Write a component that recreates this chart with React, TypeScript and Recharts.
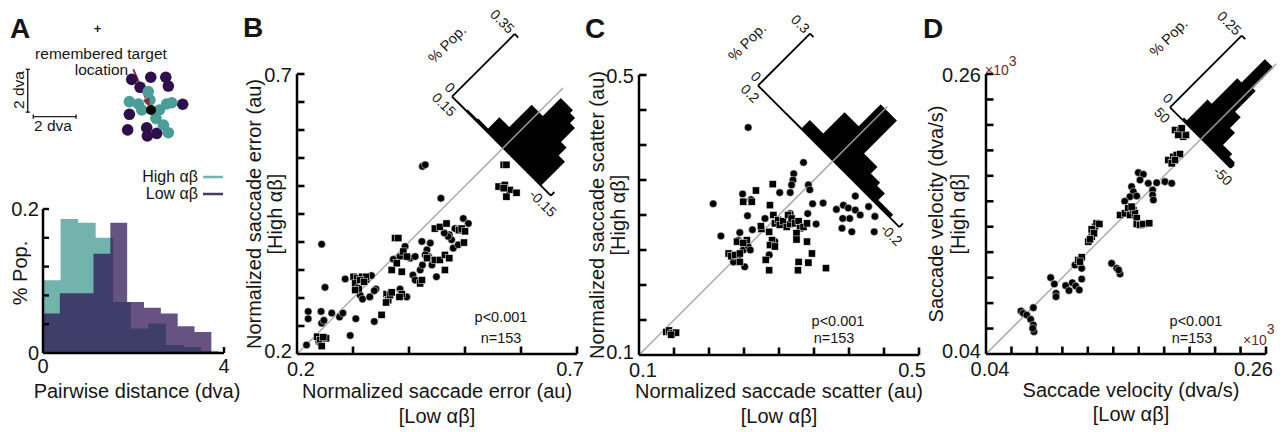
import React from "react";
import {
  Area,
  ComposedChart,
  ReferenceLine,
  Scatter,
  ScatterChart,
  XAxis,
  YAxis,
} from "recharts";

const FONT = '"Liberation Sans", Arial, Helvetica, sans-serif';
const INK = "#151515";
const TEAL = "#72b3ae";
const TEAL_DOT = "#4b9d98";
const PURPLE = "#2b1150";
const PURPLE_DOT = "#2d0f4b";

// ---- panel A, example endpoints (dva, relative to the target)
const lowAlphaEnds: [number, number][] = [
  [-0.9, 1.43], [-0.51, 1.06], [-0.01, 1.53], [0.69, 1.53], [0.81, 1.12],
  [-1.01, -0.2], [1.48, 0.27], [-1.09, -0.93], [-0.2, -0.83], [-0.17, -1.21],
  [0.27, -1.09],
];
const highAlphaEnds: [number, number][] = [
  [-1.01, 0.39], [-0.59, 0.28], [-0.13, 0.86], [-0.05, 0.47], [0.73, 0.28],
  [0.97, 0.34], [0.39, 0], [0.23, -0.39], [0.58, -0.7], [0.81, -1.06],
  [-0.43, 0],
];
const targetPos: [number, number][] = [[0, 0]];
const arrowFrom = { x: -0.83, y: 1.9 };
const arrowTo = { x: -0.05, y: 0.13 };
const schemX = [-7.056, 4.159];
const schemY = [-2.336, 5.14];

// ---- panel A histogram
const pairEdgesHigh = [0, 0.388, 0.776, 1.164, 1.552, 1.94, 2.328, 2.716, 3.104, 3.492, 3.88];
const pairPopHigh = [0.101, 0.186, 0.181, 0.16, 0.071, 0.034, 0.041, 0.011, 0.008, 0.003];
const pairEdgesLow = [0, 0.372, 0.744, 1.116, 1.488, 1.86, 2.232, 2.604, 2.976, 3.348, 3.72];
const pairPopLow = [0.055, 0.083, 0.083, 0.138, 0.181, 0.071, 0.063, 0.055, 0.037, 0.029];
const pairTicksY = [0, 0.04, 0.08, 0.12, 0.16, 0.2];
const pairTicksX = [0, 4];

// ---- panel B, saccade error
const errCircles: [number, number][] = [
  [0.217, 0.216], [0.22, 0.263], [0.22, 0.276], [0.243, 0.276], [0.244, 0.255],
  [0.262, 0.273], [0.276, 0.266], [0.282, 0.273], [0.305, 0.263], [0.295, 0.233],
  [0.338, 0.258], [0.25, 0.319], [0.244, 0.396], [0.248, 0.26], [0.239, 0.222],
  [0.286, 0.334], [0.333, 0.34], [0.313, 0.305], [0.317, 0.298], [0.33, 0.302],
  [0.341, 0.316], [0.338, 0.313], [0.324, 0.332], [0.384, 0.316], [0.396, 0.302],
  [0.372, 0.369], [0.393, 0.392], [0.384, 0.374], [0.402, 0.371], [0.411, 0.374],
  [0.407, 0.341], [0.411, 0.332], [0.42, 0.35], [0.424, 0.359], [0.423, 0.401],
  [0.432, 0.386], [0.438, 0.398], [0.435, 0.374], [0.441, 0.359], [0.449, 0.338],
  [0.472, 0.413], [0.479, 0.389], [0.476, 0.404], [0.47, 0.41], [0.482, 0.424],
  [0.497, 0.442], [0.506, 0.433], [0.488, 0.395], [0.463, 0.416], [0.429, 0.377],
  [0.424, 0.535], [0.429, 0.538], [0.457, 0.478],
];
const errSquares: [number, number][] = [
  [0.351, 0.27], [0.236, 0.231], [0.241, 0.225], [0.244, 0.214], [0.252, 0.228],
  [0.247, 0.23], [0.301, 0.338], [0.307, 0.335], [0.316, 0.338], [0.323, 0.338],
  [0.304, 0.326], [0.31, 0.317], [0.304, 0.314], [0.313, 0.332], [0.32, 0.329],
  [0.36, 0.307], [0.363, 0.296], [0.366, 0.305], [0.359, 0.292], [0.369, 0.31],
  [0.387, 0.307], [0.383, 0.302], [0.375, 0.407], [0.381, 0.407], [0.369, 0.35],
  [0.378, 0.362], [0.387, 0.347], [0.39, 0.383], [0.396, 0.374], [0.42, 0.326],
  [0.423, 0.332], [0.432, 0.371], [0.446, 0.368], [0.455, 0.368], [0.464, 0.35],
  [0.464, 0.377], [0.472, 0.371], [0.446, 0.424], [0.455, 0.427], [0.467, 0.433],
  [0.489, 0.421], [0.494, 0.424], [0.5, 0.419], [0.498, 0.399], [0.569, 0.538],
  [0.574, 0.538], [0.56, 0.499], [0.571, 0.502], [0.58, 0.493], [0.574, 0.481],
  [0.592, 0.488], [0.569, 0.496],
];
const errTicksX = [0.2, 0.3, 0.4, 0.5, 0.6, 0.7];
const errTicksY = [0.2, 0.25, 0.3, 0.35, 0.4, 0.45, 0.5, 0.55, 0.6, 0.65, 0.7];
const errDiffEdges = [0.137, 0.107, 0.077, 0.047, 0.017, -0.017, -0.054, -0.069, -0.084, -0.101, -0.12];
const errDiffPop = [0.004, 0.008, 0.012, 0.075, 0.2, 0.3, 0.284, 0.256, 0.178, 0.134];

// ---- panel C, saccade scatter
const scatCircles: [number, number][] = [
  [0.256, 0.425], [0.335, 0.375], [0.321, 0.359], [0.32, 0.35], [0.318, 0.343],
  [0.342, 0.343], [0.344, 0.336], [0.301, 0.332], [0.316, 0.332], [0.248, 0.33],
  [0.409, 0.327], [0.26, 0.322], [0.206, 0.316], [0.217, 0.27], [0.244, 0.275],
  [0.24, 0.236], [0.242, 0.241], [0.249, 0.25], [0.242, 0.264], [0.251, 0.226],
  [0.256, 0.255], [0.259, 0.25], [0.235, 0.233], [0.255, 0.299], [0.262, 0.279],
  [0.28, 0.295], [0.294, 0.262], [0.286, 0.243], [0.316, 0.302], [0.341, 0.302],
  [0.353, 0.287], [0.363, 0.317], [0.348, 0.316], [0.382, 0.308], [0.392, 0.314],
  [0.399, 0.31], [0.409, 0.307], [0.416, 0.3], [0.428, 0.312], [0.437, 0.298],
  [0.401, 0.295], [0.391, 0.295], [0.404, 0.276], [0.39, 0.281], [0.436, 0.276],
];
const scatSquares: [number, number][] = [
  [0.267, 0.335], [0.291, 0.344], [0.139, 0.133], [0.143, 0.135], [0.148, 0.131],
  [0.153, 0.132], [0.146, 0.129], [0.228, 0.245], [0.232, 0.241], [0.237, 0.243],
  [0.244, 0.245], [0.24, 0.262], [0.254, 0.264], [0.249, 0.26], [0.244, 0.233],
  [0.249, 0.319], [0.261, 0.319], [0.275, 0.28], [0.274, 0.284], [0.286, 0.276],
  [0.287, 0.314], [0.29, 0.264], [0.287, 0.257], [0.294, 0.255], [0.281, 0.236],
  [0.286, 0.221], [0.292, 0.3], [0.294, 0.288], [0.299, 0.293], [0.301, 0.286],
  [0.306, 0.291], [0.311, 0.283], [0.316, 0.287], [0.313, 0.3], [0.318, 0.295],
  [0.323, 0.288], [0.328, 0.291], [0.33, 0.281], [0.335, 0.283], [0.34, 0.288],
  [0.325, 0.274], [0.325, 0.265], [0.34, 0.262], [0.347, 0.245], [0.328, 0.233],
  [0.342, 0.232], [0.327, 0.221], [0.367, 0.224],
];
const scatTicks = [0.1, 0.15, 0.2, 0.25, 0.3, 0.35, 0.4, 0.45, 0.5];
const scatDiffEdges = [0.12, 0.078, 0.04, 0.0, -0.046, -0.084, -0.11, -0.132, -0.174];
const scatDiffPop = [0.004, 0.05, 0.173, 0.3, 0.11, 0.072, 0.055, 0.017];

// ---- panel D, saccade velocity (x10^3)
const veloCircles: [number, number][] = [
  [0.0675, 0.0738], [0.0693, 0.072], [0.072, 0.0706], [0.0772, 0.0764], [0.0751, 0.0672],
  [0.0772, 0.0628], [0.0777, 0.0575], [0.0767, 0.0602], [0.0908, 0.1], [0.0937, 0.095],
  [0.095, 0.0877], [0.095, 0.085], [0.1026, 0.0937], [0.1052, 0.0898], [0.1078, 0.096],
  [0.1105, 0.0934], [0.1133, 0.0903], [0.1152, 0.0989], [0.1099, 0.1099], [0.1152, 0.1073],
  [0.1387, 0.1112], [0.1427, 0.1073], [0.1453, 0.1029], [0.1442, 0.106], [0.1597, 0.1825],
  [0.1636, 0.1812], [0.1675, 0.1741], [0.1741, 0.1746], [0.1806, 0.1754], [0.1859, 0.1741],
  [0.161, 0.1767], [0.1709, 0.1689], [0.1709, 0.1649], [0.1544, 0.1715], [0.1558, 0.1675],
  [0.1531, 0.1636], [0.1584, 0.1641], [0.1715, 0.161], [0.149, 0.16],
];
const veloSquares: [number, number][] = [
  [0.1125, 0.1139], [0.1152, 0.116], [0.1139, 0.1126], [0.1204, 0.1283], [0.123, 0.1322],
  [0.1238, 0.1361], [0.1256, 0.14], [0.1269, 0.1427], [0.1291, 0.1421], [0.123, 0.1379],
  [0.1249, 0.1348], [0.1217, 0.1301], [0.1453, 0.1492], [0.1492, 0.1505], [0.1518, 0.1545],
  [0.1531, 0.1492], [0.1558, 0.1531], [0.1571, 0.1505], [0.1584, 0.1466], [0.1584, 0.1421],
  [0.161, 0.1414], [0.1636, 0.1421], [0.1683, 0.1427], [0.1544, 0.1558], [0.1885, 0.216],
  [0.1924, 0.2147], [0.195, 0.2108], [0.1911, 0.2121], [0.1971, 0.2121], [0.1937, 0.2173],
  [0.1833, 0.1924], [0.1872, 0.195], [0.1898, 0.1964], [0.1924, 0.1971], [0.1859, 0.1898],
  [0.1885, 0.1924],
];
const veloTicks = [0.04, 0.06, 0.08, 0.1, 0.12, 0.14, 0.16, 0.18, 0.2, 0.22, 0.24, 0.26];
const veloDiffEdges = [30.2, 25.5, 18.5, 11.5, -2.5, -7.2, -16.5, -24.7, -39.9, -49.2];
const veloDiffPop = [0.007, 0.079, 0.168, 0.25, 0.178, 0.106, 0.069, 0.027, 0.017];

const toXY = (pts: [number, number][]) => pts.map(([x, y]) => ({ x, y }));

function binValue(edges: number[], vals: number[], x: number) {
  for (let i = 0; i < vals.length; i++) {
    if (x >= edges[i] && x < edges[i + 1]) return vals[i];
  }
  return 0;
}

type TickLabel = { text: string; anchor?: "start" | "middle" | "end"; dx?: number; dy?: number } | null;

// inward tick mark + outside label, drawn by the axis itself
function axisTick(
  side: "left" | "bottom",
  o: { len: number; sw: number; fs: number; gap: number; label: (v: number, i: number) => TickLabel; skip?: (v: number, i: number) => boolean }
) {
  return (p: any) => {
    const { x, y } = p;
    const v = p.payload.value;
    const lab = o.label(v, p.index);
    const mark = !(o.skip && o.skip(v, p.index));
    const left = side === "left";
    return (
      <g>
        {mark &&
          (left ? (
            <line x1={x} y1={y} x2={x + o.len} y2={y} stroke="#000" strokeWidth={o.sw} />
          ) : (
            <line x1={x} y1={y} x2={x} y2={y - o.len} stroke="#000" strokeWidth={o.sw} />
          ))}
        {lab && (
          <text
            x={(left ? x - o.gap : x) + (lab.dx || 0)}
            y={(left ? y : y + o.gap) + (lab.dy || 0)}
            dy={left ? "0.35em" : 0}
            textAnchor={lab.anchor || (left ? "end" : "middle")}
            fontSize={o.fs}
            fontFamily={FONT}
            fill={INK}
          >
            {lab.text}
          </text>
        )}
      </g>
    );
  };
}

// the axis box must be at least 1px to render; margins are trimmed by that pixel
const axisStyle = (sw: number) => ({
  axisLine: { stroke: "#000", strokeWidth: sw },
  tickLine: false,
  tickSize: 0,
  tickMargin: 0,
  interval: 0 as const,
  allowDataOverflow: true,
});

const dotShape = (r: number, fill: string, stroke = "none", sw = 0) => (p: any) =>
  <circle cx={p.cx} cy={p.cy} r={r} fill={fill} stroke={stroke} strokeWidth={sw} />;

const squareShape = (s: number) => (p: any) =>
  <rect x={p.cx - s / 2} y={p.cy - s / 2} width={s} height={s} fill="#000" stroke="#fff" strokeWidth={0.5} />;

function arrowHead(p: any) {
  const a = Math.atan2(-(arrowTo.y - arrowFrom.y), arrowTo.x - arrowFrom.x);
  const c = Math.cos(a), s = Math.sin(a);
  const bx = p.cx - 9 * c, by = p.cy - 9 * s;
  const pts = `${p.cx},${p.cy} ${bx - 3.5 * s},${by + 3.5 * c} ${bx + 3.5 * s},${by - 3.5 * c}`;
  return <polygon points={pts} fill="#8e2b3b" />;
}

function Schematic() {
  const bar = { stroke: "#222", strokeWidth: 1.4, ifOverflow: "visible" as const };
  return (
    <div style={{ position: "absolute", left: 0, top: 0 }}>
      <ScatterChart width={240} height={160} margin={{ top: 0, right: 0, bottom: 0, left: 0 }}>
        <XAxis type="number" dataKey="x" domain={schemX} hide height={0} />
        <YAxis type="number" dataKey="y" domain={schemY} hide width={0} />
        <Scatter data={toXY(lowAlphaEnds)} shape={dotShape(5.8, PURPLE_DOT)} isAnimationActive={false} />
        <Scatter data={toXY(highAlphaEnds)} shape={dotShape(5.8, TEAL_DOT)} isAnimationActive={false} />
        <Scatter data={toXY(targetPos)} shape={dotShape(5, "#000")} isAnimationActive={false} />
        <ReferenceLine segment={[{ x: -5.76, y: -0.1 }, { x: -5.76, y: 1.9 }]} {...bar} />
        <ReferenceLine segment={[{ x: -5.86, y: 1.9 }, { x: -5.66, y: 1.9 }]} {...bar} />
        <ReferenceLine segment={[{ x: -5.86, y: -0.1 }, { x: -5.66, y: -0.1 }]} {...bar} />
        <ReferenceLine segment={[{ x: -5.5, y: -0.31 }, { x: -3.5, y: -0.31 }]} {...bar} />
        <ReferenceLine segment={[{ x: -5.5, y: -0.41 }, { x: -5.5, y: -0.21 }]} {...bar} />
        <ReferenceLine segment={[{ x: -3.5, y: -0.41 }, { x: -3.5, y: -0.21 }]} {...bar} />
        <ReferenceLine segment={[arrowFrom, arrowTo]} stroke="#8e2b3b" strokeWidth={2} ifOverflow="visible" />
        <Scatter data={[arrowTo]} shape={arrowHead} isAnimationActive={false} />
      </ScatterChart>
    </div>
  );
}

function PairHist() {
  const mL = 45, mT = 12, mR = 16, mB = 30, W = 181, H = 144;
  const xs = Array.from(new Set([...pairEdgesHigh, ...pairEdgesLow])).sort((a, b) => a - b);
  const rows = xs.map((x) => ({
    x,
    high: binValue(pairEdgesHigh, pairPopHigh, x),
    low: binValue(pairEdgesLow, pairPopLow, x),
  }));
  const yTick = axisTick("left", {
    len: 6, sw: 2.4, fs: 20, gap: 4,
    label: (v, i) => (i === 0 ? { text: "0" } : i === pairTicksY.length - 1 ? { text: "0.2" } : null),
    skip: (v, i) => i === 0,
  });
  const xTick = axisTick("bottom", {
    len: 6, sw: 2.4, fs: 20, gap: 20,
    label: (v) => ({ text: String(v) }),
    skip: (v, i) => i === 0,
  });
  return (
    <div style={{ position: "absolute", left: 43 - mL, top: 209 - mT }}>
      <ComposedChart width={W + mL + mR} height={H + mT + mB} data={rows} margin={{ top: mT, right: mR, bottom: mB - 1, left: mL - 1 }}>
        <Area type="stepAfter" dataKey="high" fill={TEAL} fillOpacity={1} stroke="none" isAnimationActive={false} />
        <Area type="stepAfter" dataKey="low" fill={PURPLE} fillOpacity={0.72} stroke="none" isAnimationActive={false} />
        <XAxis type="number" dataKey="x" domain={[0, 4]} ticks={pairTicksX} height={1} tick={xTick} {...axisStyle(2.5)} />
        <YAxis type="number" domain={[0, 0.2]} ticks={pairTicksY} width={1} tick={yTick} {...axisStyle(2.5)} />
      </ComposedChart>
    </div>
  );
}

function ScatterPanel(props: {
  plotX: number; plotY: number; dom: number[]; ticksX: number[]; ticksY: number[];
  labX: string[]; labY: string[]; circles: [number, number][]; squares: [number, number][]; diagEnd: number;
}) {
  const { plotX, plotY, dom, ticksX, ticksY, labX, labY, circles, squares, diagEnd } = props;
  const S = 280, mL = 62, mT = 14, mR = 22, mB = 32;
  const xTick = axisTick("bottom", {
    len: 7.5, sw: 2.6, fs: 20, gap: 22,
    label: (v, i) => (i === 0 ? { text: labX[0], dx: 4 } : i === ticksX.length - 1 ? { text: labX[1], anchor: "end", dx: 7 } : null),
    skip: (v, i) => i === 0,
  });
  const yTick = axisTick("left", {
    len: 7.5, sw: 2.6, fs: 20, gap: 5,
    label: (v, i) => (i === 0 ? { text: labY[0], dy: -3 } : i === ticksY.length - 1 ? { text: labY[1], dy: 1 } : null),
    skip: (v, i) => i === 0,
  });
  return (
    <div style={{ position: "absolute", left: plotX - mL, top: plotY - mT }}>
      <ScatterChart width={S + mL + mR} height={S + mT + mB} margin={{ top: mT, right: mR, bottom: mB - 1, left: mL - 1 }}>
        <XAxis type="number" dataKey="x" domain={dom} ticks={ticksX} height={1} tick={xTick} {...axisStyle(2.5)} />
        <YAxis type="number" dataKey="y" domain={dom} ticks={ticksY} width={1} tick={yTick} {...axisStyle(2.5)} />
        <ReferenceLine segment={[{ x: dom[0], y: dom[0] }, { x: diagEnd, y: diagEnd }]} stroke="#a3a3a3" strokeWidth={1.3} ifOverflow="visible" />
        <Scatter data={toXY(circles)} shape={dotShape(3.8, "#000", "#fff", 0.5)} isAnimationActive={false} />
        <Scatter data={toXY(squares)} shape={squareShape(7.2)} isAnimationActive={false} />
      </ScatterChart>
    </div>
  );
}

// histogram of high-low differences, drawn flat then turned 45deg onto the anti-diagonal
function DiagHist(props: {
  ox: number; oy: number; len: number; tall: number; maxDiff: number; maxPop: number;
  edges: number[]; pops: number[]; diffText: string[]; popText: string;
}) {
  const { ox, oy, len, tall, maxDiff, maxPop, edges, pops, diffText, popText } = props;
  const mL = 40, mT = 12, mR = 24, mB = 26;
  const W = len + mL + mR, H = tall + mT + mB;
  const rows = edges.map((d, i) => ({ d, p: i < pops.length ? pops[i] : 0 }));
  const xTick = axisTick("bottom", {
    len: 5, sw: 1.8, fs: 14, gap: 16,
    label: (v) => ({ text: v > 0 ? diffText[0] : diffText[1] }),
    skip: (v) => v > 0,
  });
  const yTick = axisTick("left", {
    len: 5, sw: 1.8, fs: 14, gap: 4,
    label: (v) => (v === 0 ? { text: "0", dy: -5 } : { text: popText }),
    skip: (v) => v === 0,
  });
  return (
    <div
      style={{
        position: "absolute",
        left: ox - mL,
        top: oy - mT - tall,
        width: W,
        height: H,
        transform: "rotate(45deg)",
        transformOrigin: `${mL}px ${mT + tall}px`,
      }}
    >
      <ComposedChart width={W} height={H} data={rows} margin={{ top: mT, right: mR, bottom: mB - 1, left: mL - 1 }}>
        <Area type="stepAfter" dataKey="p" fill="#000" fillOpacity={1} stroke="none" isAnimationActive={false} />
        <XAxis type="number" dataKey="d" domain={[-maxDiff, maxDiff]} reversed ticks={[maxDiff, -maxDiff]} height={1} tick={xTick} {...axisStyle(1.8)} />
        <YAxis type="number" domain={[0, maxPop]} ticks={[0, maxPop]} width={1} tick={yTick} {...axisStyle(1.8)} />
      </ComposedChart>
    </div>
  );
}

function VText({ x, y, size, children }: { x: number; y: number; size: number; children: React.ReactNode }) {
  return (
    <text x={x} y={y} dy="0.35em" textAnchor="middle" fontSize={size} transform={`rotate(-90 ${x} ${y})`}>
      {children}
    </text>
  );
}

function DText({ x, y, children }: { x: number; y: number; children: React.ReactNode }) {
  return (
    <text x={x} y={y} dy="0.35em" textAnchor="middle" fontSize={14.5} transform={`rotate(-45 ${x} ${y})`}>
      {children}
    </text>
  );
}

export default function App() {
  return (
    <div style={{ position: "absolute", left: 0, top: 0, width: 1287, height: 432, background: "#fff", overflow: "hidden", fontFamily: FONT }}>
      <Schematic />
      <PairHist />

      <DiagHist ox={452.3} oy={96.7} len={139.8} tall={88.7} maxDiff={0.15} maxPop={0.35} edges={errDiffEdges} pops={errDiffPop} diffText={["0.15", "-0.15"]} popText="0.35" />
      <ScatterPanel plotX={297} plotY={74} dom={[0.2, 0.7]} ticksX={errTicksX} ticksY={errTicksY} labX={["0.2", "0.7"]} labY={["0.2", "0.7"]} circles={errCircles} squares={errSquares} diagEnd={0.675} />

      <DiagHist ox={758.3} oy={85.7} len={200} tall={73.6} maxDiff={0.2} maxPop={0.3} edges={scatDiffEdges} pops={scatDiffPop} diffText={["0.2", "-0.2"]} popText="0.3" />
      <ScatterPanel plotX={639} plotY={75} dom={[0.1, 0.5]} ticksX={scatTicks} ticksY={scatTicks} labX={["0.1", "0.5"]} labY={["0.1", "0.5"]} circles={scatCircles} squares={scatSquares} diagEnd={0.455} />

      <DiagHist ox={1170} oy={107.3} len={85.7} tall={101.4} maxDiff={50} maxPop={0.25} edges={veloDiffEdges} pops={veloDiffPop} diffText={["50", "-50"]} popText="0.25" />
      <ScatterPanel plotX={986} plotY={74} dom={[0.04, 0.26]} ticksX={veloTicks} ticksY={veloTicks} labX={["0.04", "0.26"]} labY={["0.04", "0.26"]} circles={veloCircles} squares={veloSquares} diagEnd={0.268} />

      <svg width={1287} height={432} style={{ position: "absolute", left: 0, top: 0, pointerEvents: "none" }} fontFamily={FONT} fill={INK}>
        <g fontSize={28} fontWeight="bold">
          <text x={10} y={38}>A</text>
          <text x={243} y={37}>B</text>
          <text x={585} y={38}>C</text>
          <text x={923} y={38}>D</text>
        </g>

        <text x={97.5} y={32.5} fontSize={13} fontWeight="bold" textAnchor="middle">+</text>
        <text x={101} y={59} fontSize={15.5} textAnchor="middle">remembered target</text>
        <text x={101.5} y={75} fontSize={15.5} textAnchor="middle">location</text>
        <text x={53} y={131} fontSize={15.5} textAnchor="middle">2 dva</text>
        <VText x={19} y={90} size={15.5}>2 dva</VText>

        <text x={198} y={182} fontSize={16} textAnchor="end">High αβ</text>
        <line x1={203} x2={223} y1={177} y2={177} stroke={TEAL} strokeWidth={2.5} />
        <text x={198} y={199} fontSize={16} textAnchor="end">Low αβ</text>
        <line x1={203} x2={223} y1={194} y2={194} stroke="#4b3864" strokeWidth={2.5} />
        <VText x={20} y={273} size={20}>% Pop.</VText>
        <text x={137} y={398} fontSize={20} textAnchor="middle">Pairwise distance (dva)</text>

        <VText x={254} y={214} size={20}>Normalized saccade error (au)</VText>
        <VText x={275} y={214} size={20}>[High αβ]</VText>
        <text x={437} y={398} fontSize={20} textAnchor="middle">Normalized saccade error (au)</text>
        <text x={437} y={423} fontSize={20} textAnchor="middle">[Low αβ]</text>
        <text x={501} y={322} fontSize={14.5} textAnchor="middle">p&lt;0.001</text>
        <text x={501} y={343} fontSize={14.5} textAnchor="middle">n=153</text>
        <DText x={447} y={44}>% Pop.</DText>

        <VText x={597} y={215} size={20}>Normalized saccade scatter (au)</VText>
        <VText x={618} y={215} size={20}>[High αβ]</VText>
        <text x={779} y={398} fontSize={20} textAnchor="middle">Normalized saccade scatter (au)</text>
        <text x={779} y={423} fontSize={20} textAnchor="middle">[Low αβ]</text>
        <text x={838} y={326} fontSize={14.5} textAnchor="middle">p&lt;0.001</text>
        <text x={834} y={343} fontSize={14.5} textAnchor="middle">n=153</text>
        <DText x={747} y={42}>% Pop.</DText>

        <VText x={936} y={214} size={20}>Saccade velocity (dva/s)</VText>
        <VText x={958} y={214} size={20}>[High αβ]</VText>
        <text x={1131} y={397} fontSize={20} textAnchor="middle">Saccade velocity (dva/s)</text>
        <text x={1131} y={421} fontSize={20} textAnchor="middle">[Low αβ]</text>
        <text x={1196} y={326} fontSize={14.5} textAnchor="middle">p&lt;0.001</text>
        <text x={1192} y={343} fontSize={14.5} textAnchor="middle">n=153</text>
        <DText x={1168.5} y={37.5}>% Pop.</DText>
        <g fill="#6a2a2a" fontSize={14}>
          <text x={985} y={75}>×10<tspan dy={-9}>3</tspan></text>
          <text x={1243} y={345}>×10<tspan dy={-11}>3</tspan></text>
        </g>
      </svg>
    </div>
  );
}
